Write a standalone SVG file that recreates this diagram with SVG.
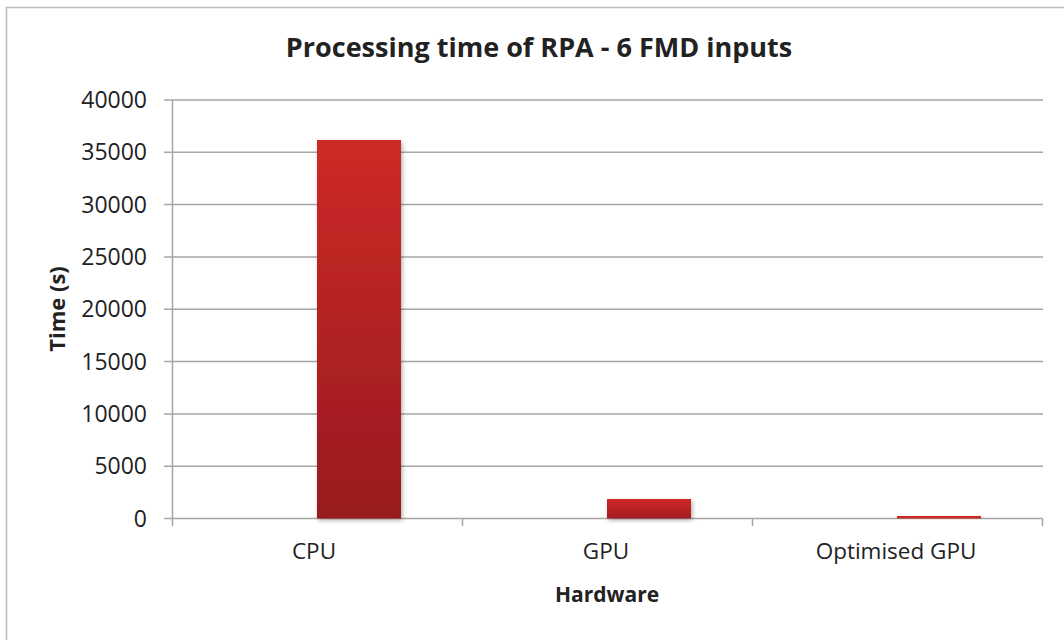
<svg xmlns="http://www.w3.org/2000/svg" width="1064" height="640" viewBox="0 0 1064 640">
<style>
.lbl{font-family:"Open Sans","Liberation Sans",sans-serif;fill:#222}
.ytick{font-size:23px;text-anchor:end}
.xtick{font-size:22.5px;text-anchor:middle}
.ttl{font-weight:bold;text-anchor:middle}
.grid{stroke:#a6a6a6;stroke-width:1.5;fill:none}
</style>
<defs>
<linearGradient id="barg" x1="0" y1="0" x2="0" y2="1">
<stop offset="0" stop-color="#cd2a27"/>
<stop offset="1" stop-color="#981a1e"/>
</linearGradient>
<linearGradient id="barg2" x1="0" y1="0" x2="0" y2="1">
<stop offset="0" stop-color="#cd2a27"/>
<stop offset="1" stop-color="#a51c20"/>
</linearGradient>
<filter id="sh" x="-20%" y="-20%" width="140%" height="140%">
<feDropShadow dx="1.5" dy="2" stdDeviation="2" flood-color="#000" flood-opacity="0.3"/>
</filter>
</defs>
<rect x="6.5" y="7.5" width="1080" height="660" fill="#fff" stroke="#bcbcbc" stroke-width="1.5"/>
<text class="lbl ttl" x="539" y="57" font-size="27">Processing time of RPA - 6 FMD inputs</text>
<g id="gridlines">
<path class="grid" d="M164 100H1043M164 152.3H1043M164 204.6H1043M164 256.9H1043M164 309.3H1043M164 361.6H1043M164 413.9H1043M164 466.2H1043"/>
<path class="grid" d="M164 518.5H1043M172.5 100V518.5M172.5 518.5V526M462.5 518.5V526M752.5 518.5V526M1042.5 518.5V526"/>
</g>
<g id="yaxis-labels">
<text class="lbl ytick" x="147" y="108">40000</text>
<text class="lbl ytick" x="147" y="160.3">35000</text>
<text class="lbl ytick" x="147" y="212.6">30000</text>
<text class="lbl ytick" x="147" y="264.9">25000</text>
<text class="lbl ytick" x="147" y="317.3">20000</text>
<text class="lbl ytick" x="147" y="369.6">15000</text>
<text class="lbl ytick" x="147" y="421.9">10000</text>
<text class="lbl ytick" x="147" y="474.2">5000</text>
<text class="lbl ytick" x="147" y="526.5">0</text>
</g>
<g id="bar-cpu"><rect x="317" y="140" width="84" height="378.5" fill="url(#barg)" filter="url(#sh)"/></g>
<g id="bar-gpu"><rect x="607" y="499" width="84" height="19.5" fill="url(#barg2)" filter="url(#sh)"/></g>
<g id="bar-optgpu"><rect x="897" y="516" width="84" height="2.5" fill="#cd2a27" filter="url(#sh)"/></g>
<g id="xaxis-labels">
<text class="lbl xtick" x="314" y="559">CPU</text>
<text class="lbl xtick" x="606" y="559">GPU</text>
<text class="lbl xtick" x="896" y="559">Optimised GPU</text>
</g>
<text class="lbl ttl" x="607" y="602" font-size="21">Hardware</text>
<text class="lbl ttl" transform="translate(65 309) rotate(-90)" font-size="22">Time (s)</text>
</svg>
